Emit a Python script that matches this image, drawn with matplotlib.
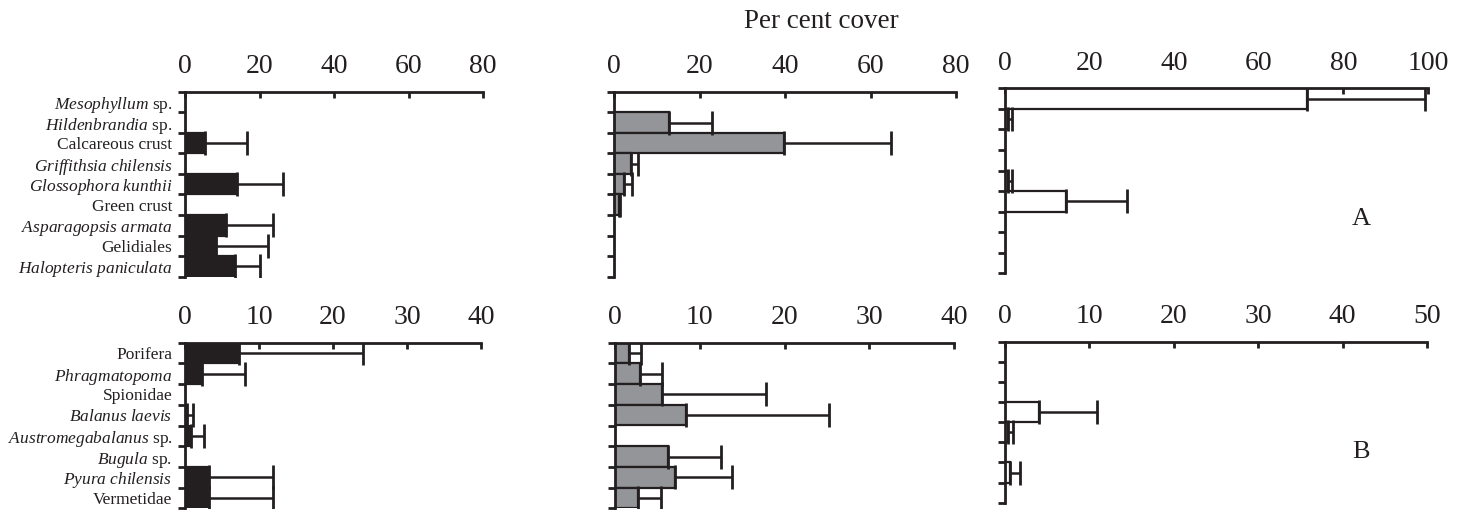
import numpy as np
import matplotlib
matplotlib.use('Agg')
import matplotlib.pyplot as plt

plt.rcParams['font.family'] = ['Liberation Serif', 'DejaVu Serif']
plt.rcParams['mathtext.fontset'] = 'custom'
plt.rcParams['mathtext.rm'] = 'Liberation Serif'
plt.rcParams['mathtext.it'] = 'Liberation Serif:italic'

# categories (algae, top row A)
algae = [r'$\mathit{Mesophyllum}$ sp.', r'$\mathit{Hildenbrandia}$ sp.', 'Calcareous crust',
         r'$\mathit{Griffithsia\ chilensis}$', r'$\mathit{Glossophora\ kunthii}$', 'Green crust',
         r'$\mathit{Asparagopsis\ armata}$', 'Gelidiales', r'$\mathit{Halopteris\ paniculata}$']
# categories (fauna, bottom row B)
fauna = ['Porifera', r'$\mathit{Phragmatopoma}$', 'Spionidae', r'$\mathit{Balanus\ laevis}$',
         r'$\mathit{Austromegabalanus}$ sp.', r'$\mathit{Bugula}$ sp.', r'$\mathit{Pyura\ chilensis}$',
         'Vermetidae']

# per cent cover, mean and +SD
a1_mean = [0, 0, 5.5, 0, 13.9, 0, 10.9, 8.2, 13.4]
a1_err = [0, 0, 11.2, 0, 12.3, 0, 12.8, 14.2, 6.7]
a2_mean = [0, 12.9, 39.8, 4.0, 2.3, 1.2, 0, 0, 0]
a2_err = [0, 10.1, 24.9, 1.5, 2.0, 0.3, 0, 0, 0]
a3_mean = [71.4, 0.7, 0, 0, 0.7, 14.4, 0, 0, 0]
a3_err = [28.0, 0.9, 0, 0, 0.9, 14.4, 0, 0, 0]

b1_mean = [7.3, 2.3, 0, 0.3, 0.8, 0, 3.2, 3.2]
b1_err = [16.7, 5.8, 0, 0.8, 1.8, 0, 8.7, 8.7]
b2_mean = [1.6, 2.9, 5.6, 8.4, 0, 6.3, 7.1, 2.7]
b2_err = [1.5, 2.6, 12.2, 16.9, 0, 6.2, 6.7, 2.7]
b3_mean = [0, 0, 0, 4.0, 0.3, 0, 0.6, 0]
b3_err = [0, 0, 0, 6.9, 0.7, 0, 1.2, 0]

W, H = 1457, 513
ink = '#231f20'

fig = plt.figure(figsize=(W / 100, H / 100), dpi=100)


def panel(px, mean, err, xmax, step, color, labels=None):
    x0, x1, y0, y1 = px
    ax = fig.add_axes([x0 / W, 1 - y1 / H, (x1 - x0) / W, (y1 - y0) / H])
    n = len(mean)
    pos = np.arange(n)
    mean = np.array(mean, dtype=float)
    err = np.array(err, dtype=float)
    ax.barh(pos, mean, height=1.0, color=color, edgecolor=ink, linewidth=1.6, zorder=2)
    m = (mean > 0) | (err > 0)
    ax.errorbar(mean[m], pos[m], xerr=[np.zeros(m.sum()), err[m]], fmt='none',
                ecolor=ink, elinewidth=1.8, capsize=8.5, capthick=2, zorder=3)
    ax.set_xlim(0, xmax)
    ax.set_ylim(n - 0.5, -0.5)
    for s in ['right', 'bottom']:
        ax.spines[s].set_visible(False)
    for s in ['top', 'left']:
        ax.spines[s].set_linewidth(2)
        ax.spines[s].set_color(ink)
    ax.xaxis.tick_top()
    ax.set_xticks(np.arange(0, xmax + 1, step))
    ax.tick_params(axis='x', direction='in', length=4, width=2, pad=9, labelsize=20, colors=ink)
    ax.set_yticks(np.arange(n + 1) - 0.5)
    ax.set_yticklabels([])
    ax.tick_params(axis='y', which='major', direction='out', length=5, width=2, colors=ink)
    if labels is not None:
        ax.set_yticks(pos, minor=True)
        ax.set_yticklabels(labels, minor=True, fontsize=12.5)
        ax.tick_params(axis='y', which='minor', length=0, pad=9, colors=ink)
    ax.patch.set_visible(False)
    return ax


panel((185, 483, 91.7, 276.7), a1_mean, a1_err, 80, 20, ink, algae)
panel((614, 956, 91.7, 276.7), a2_mean, a2_err, 80, 20, '#939598')
panel((1005, 1428, 88.3, 273.3), a3_mean, a3_err, 100, 20, 'white')

panel((185, 481, 342.7, 508.3), b1_mean, b1_err, 40, 10, ink, fauna)
panel((615, 954, 342.7, 508.3), b2_mean, b2_err, 40, 10, '#939598')
panel((1005, 1427, 341.7, 502.7), b3_mean, b3_err, 50, 10, 'white')

fig.text(821 / W, 1 - 21 / H, 'Per cent cover', ha='center', va='center', fontsize=19.5, color=ink)
fig.text(1361 / W, 1 - 219 / H, 'A', ha='center', va='center', fontsize=19, color=ink)
fig.text(1361 / W, 1 - 452 / H, 'B', ha='center', va='center', fontsize=19, color=ink)

fig.savefig('out.png', dpi=100)
